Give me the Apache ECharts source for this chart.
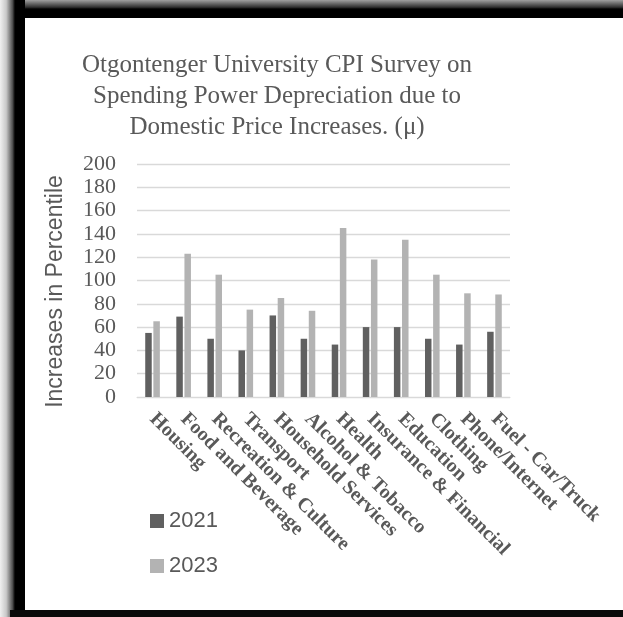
<!DOCTYPE html>
<html>
<head>
<meta charset="utf-8">
<script src="https://cdn.jsdelivr.net/npm/echarts@6/dist/echarts.min.js"></script>
<style>
html, body { margin: 0; padding: 0; background: #fff; }
#chart { width: 623px; height: 617px; }
</style>
</head>
<body>
<div id="chart"></div>
<script>
// values
var categories = ['Housing', 'Food and Beverage', 'Recreation & Culture', 'Transport',
    'Household Services', 'Alcohol & Tobacco', 'Health', 'Insurance & Financial',
    'Education', 'Clothing', 'Phone/Internet', 'Fuel - Car/Truck'];
var values2021 = [55, 69, 50, 40, 70, 50, 45, 60, 60, 50, 45, 56];
var values2023 = [65, 123, 105, 75, 85, 74, 145, 118, 135, 105, 89, 88];
var yTicks = [0, 20, 40, 60, 80, 100, 120, 140, 160, 180, 200];

var textGray = '#595959';

var myChart = echarts.init(document.getElementById('chart'));

var option = {
    backgroundColor: '#fff',
    animation: false,
    title: {
        text: 'Otgontenger University CPI Survey on\nSpending Power Depreciation due to\nDomestic Price Increases. (\u03bc)',
        left: 272,
        top: 45,
        textAlign: 'center',
        textStyle: {
            fontFamily: 'Liberation Serif',
            fontWeight: 'normal',
            fontSize: 25,
            lineHeight: 31,
            color: textGray
        }
    },
    legend: {
        orient: 'vertical',
        left: 145,
        top: 505,
        itemWidth: 14,
        itemHeight: 14,
        itemGap: 23,
        icon: 'rect',
        data: ['2021', '2023'],
        textStyle: {
            fontFamily: 'Liberation Sans',
            fontSize: 22,
            color: textGray
        }
    },
    grid: {
        left: 137,
        right: 113,
        top: 164,
        bottom: 220
    },
    xAxis: {
        type: 'category',
        data: categories,
        axisLine: { lineStyle: { color: '#d9d9d9' } },
        axisTick: { show: false },
        axisLabel: {
            rotate: -45,
            interval: 0,
            margin: 19,
            fontFamily: 'Liberation Serif',
            fontWeight: 'bold',
            fontSize: 20,
            color: textGray
        }
    },
    yAxis: {
        type: 'value',
        min: yTicks[0],
        max: yTicks[yTicks.length - 1],
        interval: 20,
        name: 'Increases in Percentile',
        nameLocation: 'middle',
        nameGap: 70,
        nameTextStyle: {
            fontFamily: 'Liberation Sans',
            fontSize: 23,
            color: textGray,
            padding: [0, 22, 0, 0]
        },
        axisLabel: {
            margin: 21,
            fontFamily: 'Liberation Serif',
            fontSize: 22,
            color: textGray
        },
        splitLine: { lineStyle: { color: '#d9d9d9', width: 1.3 } }
    },
    graphic: [
        // dark frame round the picture
        { type: 'rect', shape: { x: 0, y: 0, width: 623, height: 18 },
          style: { fill: new echarts.graphic.LinearGradient(0, 0, 0, 1, [
              { offset: 0, color: '#a0a0a0' }, { offset: 0.4, color: '#303030' }, { offset: 0.5, color: '#000' }, { offset: 1, color: '#000' }]) } },
        { type: 'rect', shape: { x: 0, y: 0, width: 25, height: 617 },
          style: { fill: new echarts.graphic.LinearGradient(0, 0, 1, 0, [
              { offset: 0, color: '#f0f0f0' }, { offset: 0.25, color: '#c8c8c8' }, { offset: 0.5, color: '#505050' }, { offset: 0.6, color: '#000' }, { offset: 1, color: '#000' }]) } },
        { type: 'rect', shape: { x: 10, y: 610, width: 613, height: 7 },
          style: { fill: '#0a0a0a' } }
    ],
    series: [{
        name: '2021',
        type: 'bar',
        data: values2021,
        barWidth: 6.5,
        barGap: '25%',
        itemStyle: { color: '#606060' }
    }, {
        name: '2023',
        type: 'bar',
        data: values2023,
        barWidth: 6.5,
        itemStyle: { color: '#b3b3b3' }
    }]
};

myChart.setOption(option);
</script>
</body>
</html>
